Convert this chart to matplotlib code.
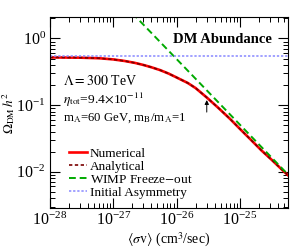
import numpy as np
import matplotlib
matplotlib.use('Agg')
import matplotlib.pyplot as plt
from matplotlib import rc

rc('font', **{'family': 'serif', 'serif': ['Liberation Serif', 'DejaVu Serif']})
rc('mathtext', fontset='stix')

# values
sigma_v = [1e-28, 3e-28, 6e-28, 1e-27, 1.5e-27, 2.2e-27, 3e-27, 4e-27, 5.5e-27, 7.5e-27,
           1e-26, 1.5e-26, 2e-26, 3e-26, 4.5e-26, 7e-26, 1e-25, 1.5e-25, 2.2e-25,
           3.2e-25, 4.5e-25, 5.8e-25]
omega_numerical = [0.52, 0.515, 0.505, 0.485, 0.46, 0.43, 0.40, 0.37, 0.335, 0.297,
                   0.26, 0.215, 0.18, 0.13, 0.092, 0.062, 0.044, 0.030, 0.0208,
                   0.0150, 0.0110, 0.0088]
omega_analytical = [0.52, 0.515, 0.505, 0.485, 0.46, 0.43, 0.40, 0.37, 0.335, 0.297,
                    0.26, 0.215, 0.18, 0.13, 0.092, 0.062, 0.044, 0.030, 0.0208,
                    0.0150, 0.0110, 0.0088]
sigma_v_wimp = [2e-27, 5.8e-25]
omega_wimp = [2.4, 0.0090]
omega_asym = 0.555
arrow_sv = 3e-26
x_ticks = [1e-28, 1e-27, 1e-26, 1e-25]
y_ticks = [1e-2, 1e-1, 1e0]

fig = plt.figure(figsize=(2.92, 2.49), dpi=100)
ax = fig.add_axes([0.171, 0.165, 0.816, 0.765])

ax.plot(sigma_v, omega_numerical, color='red', lw=1.9, label='Numerical')
ax.plot(sigma_v, omega_analytical, color='#7a0000', lw=1.2, ls=(0, (2, 1.5)), label='Analytical')
ax.plot(sigma_v_wimp, omega_wimp, color='#00aa00', lw=1.4, ls=(0, (3.5, 2)), label='WIMP Freeze$-$out')
ax.axhline(omega_asym, color='#8888ff', lw=1.1, ls=(0, (1.5, 1.2)), label='Initial Asymmetry')

ax.set_xscale('log')
ax.set_yscale('log')
ax.set_xticks(x_ticks)
ax.set_yticks(y_ticks)
ax.set_xlim(1e-28, 5.8e-25)
ax.set_ylim(0.00286, 2.07)

ax.tick_params(which='both', direction='in', top=True, right=True, labelsize=11.5)
ax.tick_params(which='major', length=7, width=0.8, pad=3)
ax.tick_params(which='minor', length=3.5, width=0.7)
ax.yaxis.set_minor_formatter(matplotlib.ticker.NullFormatter())
ax.xaxis.set_minor_formatter(matplotlib.ticker.NullFormatter())

ax.set_xlabel(r'$\langle\sigma\mathrm{v}\rangle$ (cm$^3$/sec)', fontsize=10, labelpad=1)
ax.set_ylabel(r'$\Omega_{\rm DM}\,h^2$', fontsize=9.5)
ax.yaxis.set_label_coords(-0.138, 0.5)

ax.text(0.932, 0.882, 'DM Abundance', transform=ax.transAxes, ha='right', va='center',
        fontsize=10.5, fontweight='bold')
ax.text(0.055, 0.668, r'$\Lambda=300$ TeV', transform=ax.transAxes, fontsize=10, va='center')
ax.text(0.055, 0.565, r'$\eta_{\rm tot}$=9.4$\times$10$^{-11}$', transform=ax.transAxes,
        fontsize=9.7, va='center')
ax.text(0.055, 0.47, r'm$_{\rm A}$=60 GeV, m$_{\rm B}$/m$_{\rm A}$=1', transform=ax.transAxes,
        fontsize=9.2, va='center')

ax.annotate('', xy=(arrow_sv, 0.119), xytext=(arrow_sv, 0.0785),
            arrowprops=dict(arrowstyle='-|>', color='black', lw=0.7,
                            mutation_scale=6, shrinkA=0, shrinkB=0))

ax.legend(loc='lower left', bbox_to_anchor=(0.04, 0.0), frameon=False, fontsize=9.5,
          handlelength=1.35, handletextpad=0.25, labelspacing=0.05, borderpad=0.2)

fig.savefig('out.png', dpi=100)
